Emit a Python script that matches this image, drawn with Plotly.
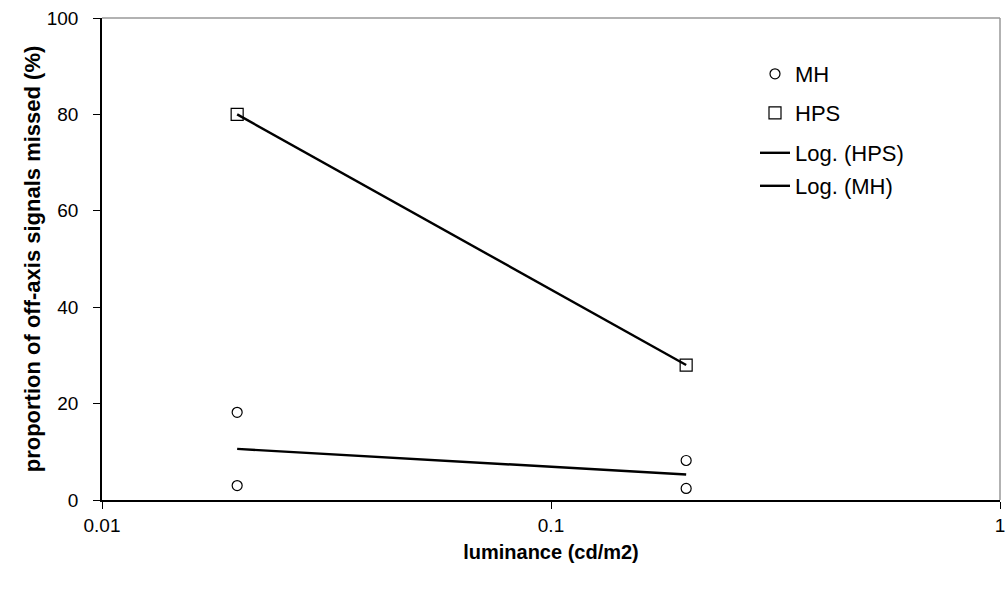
import numpy as np
import plotly.graph_objects as go

# Data
mh_x = [0.02, 0.02, 0.2, 0.2]
mh_y = [18.2, 3.0, 8.2, 2.4]
hps_x = [0.02, 0.2]
hps_y = [80.0, 28.0]

x_ticks = [0.01, 0.1, 1]
x_tick_labels = ["0.01", "0.1", "1"]
y_ticks = [0, 20, 40, 60, 80, 100]

# Logarithmic trendlines (least squares on ln x), as Excel does
def log_fit(xs, ys):
    b, a = np.polyfit(np.log(xs), ys, 1)
    xr = np.array([min(xs), max(xs)])
    return xr, a + b * np.log(xr)

hx, hy = log_fit(hps_x, hps_y)
mx, my = log_fit(mh_x, mh_y)

FONT = "Liberation Sans, Arial, sans-serif"

fig = go.Figure()
fig.add_trace(go.Scatter(x=mh_x, y=mh_y, mode="markers", name="MH", legend="legend",
                         showlegend=True,
                         marker=dict(symbol="circle-open", size=10, color="black",
                                     line=dict(width=1.2, color="black"))))
fig.add_trace(go.Scatter(x=hps_x, y=hps_y, mode="markers", name="HPS", legend="legend2",
                         showlegend=True,
                         marker=dict(symbol="square-open", size=12, color="black",
                                     line=dict(width=1.2, color="black"))))
fig.add_trace(go.Scatter(x=hx, y=hy, mode="lines", name="Log. (HPS)", legend="legend3",
                         showlegend=True,
                         line=dict(color="black", width=2.4)))
fig.add_trace(go.Scatter(x=mx, y=my, mode="lines", name="Log. (MH)", legend="legend4",
                         showlegend=True,
                         line=dict(color="black", width=2.4)))

plot_left, plot_right, plot_top, plot_bottom = 102, 1000, 18, 500
def ydom(py):
    return (plot_bottom - py) / (plot_bottom - plot_top)
def xdom(px):
    return (px - plot_left) / (plot_right - plot_left)

def leg(py):
    return dict(font=dict(family=FONT, size=22, color="black"), bgcolor="rgba(0,0,0,0)",
                xanchor="left", yanchor="middle", xref="paper", yref="paper",
                itemwidth=30, x=xdom(755), y=ydom(py))

fig.update_layout(
    width=1005, height=592,
    margin=dict(l=plot_left, r=1005 - plot_right, t=plot_top, b=592 - plot_bottom),
    paper_bgcolor="white", plot_bgcolor="white",
    font=dict(family=FONT, size=14, color="black"),
    showlegend=True,
    legend=leg(74), legend2=leg(113), legend3=leg(153), legend4=leg(186),
    xaxis=dict(type="log", range=[-2, 0], tickvals=x_ticks, ticktext=x_tick_labels,
               automargin=False, ticklabeloverflow="allow",
               showgrid=False, zeroline=False, showline=True, linecolor="black", linewidth=1.5,
               ticks="outside", ticklen=7, tickcolor="black", tickwidth=1.2,
               tickfont=dict(family=FONT, size=19, color="black"),
               title=dict(text="<b>luminance (cd/m2)</b>", font=dict(family=FONT, size=20),
                          standoff=10)),
    yaxis=dict(range=[0, 100], tickvals=y_ticks, showgrid=False, zeroline=False,
               automargin=False,
               showline=True, linecolor="black", linewidth=1.5,
               ticks="outside", ticklen=7, tickcolor="black", tickwidth=1.2,
               tickfont=dict(family=FONT, size=19, color="black"),
               ticklabelstandoff=11,
               title=dict(text="<b>proportion of off-axis signals missed (%)</b>",
                          font=dict(family=FONT, size=22), standoff=0)),
    shapes=[dict(type="line", xref="x domain", yref="y domain", x0=0, x1=1, y0=1, y1=1,
                 line=dict(color="#999999", width=1.5)),
            dict(type="line", xref="x domain", yref="y domain", x0=1, x1=1, y0=0, y1=1,
                 line=dict(color="#999999", width=1.5))],
)

fig.write_html("out.html", config={"displayModeBar": False},
               post_script="document.body.style.margin='0';document.body.style.padding='0';")
